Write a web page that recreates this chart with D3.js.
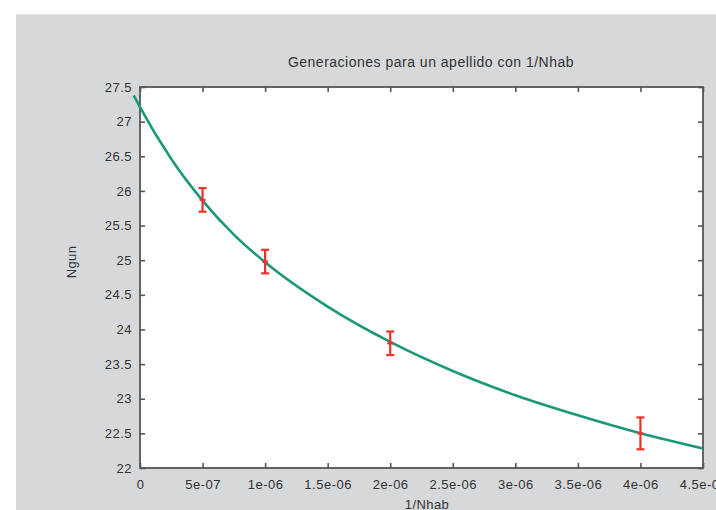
<!DOCTYPE html>
<html>
<head>
<meta charset="utf-8">
<script src="https://d3js.org/d3.v7.min.js"></script>
<style>
  body { margin: 0; background: #fff; }
  svg text { font-family: "Liberation Sans", Arial, sans-serif; fill: #333; }
</style>
</head>
<body>
<div id="chart"></div>
<script>
// measured points with error bars
const xPts = [5e-7, 1e-6, 2e-6, 4e-6];
const yPts = [25.87, 24.98, 23.80, 22.50];
const yErr = [0.17, 0.17, 0.17, 0.23];

// fitted curve
const curveX = [-5e-8, 0, 2.5e-7, 5e-7, 7.5e-7, 1e-6, 1.5e-6, 2e-6, 2.5e-6, 3e-6, 3.5e-6, 4e-6, 4.5e-6];
const curveY = [27.38, 27.21, 26.46, 25.86, 25.37, 24.97, 24.33, 23.82, 23.40, 23.05, 22.76, 22.50, 22.28];

const xTicks = [0, 5e-7, 1e-6, 1.5e-6, 2e-6, 2.5e-6, 3e-6, 3.5e-6, 4e-6, 4.5e-6];
const xTickLabels = ["0", "5e-07", "1e-06", "1.5e-06", "2e-06", "2.5e-06", "3e-06", "3.5e-06", "4e-06", "4.5e-06"];
const yTicks = [22, 22.5, 23, 23.5, 24, 24.5, 25, 25.5, 26, 26.5, 27, 27.5];
const yTickLabels = ["22", "22.5", "23", "23.5", "24", "24.5", "25", "25.5", "26", "26.5", "27", "27.5"];

const W = 716, H = 510;
const plot = {left: 140, right: 703, top: 87, bottom: 468};

const svg = d3.select("#chart").append("svg")
    .attr("width", W)
    .attr("height", H);

// grey panel
svg.append("rect")
    .attr("x", 16).attr("y", 14)
    .attr("width", W - 16).attr("height", H - 14)
    .attr("fill", "#d7d8da");
svg.append("line")
    .attr("x1", 16).attr("x2", W).attr("y1", 14.5).attr("y2", 14.5)
    .attr("stroke", "#e4e4e5");

const x = d3.scaleLinear().domain([0, 4.5e-6]).range([plot.left, plot.right]);
const y = d3.scaleLinear().domain([22, 27.5]).range([plot.bottom, plot.top]);

svg.append("rect")
    .attr("x", plot.left).attr("y", plot.top)
    .attr("width", plot.right - plot.left).attr("height", plot.bottom - plot.top)
    .attr("fill", "#fff");

// axes with inward ticks on all four sides
const fmtX = (d, i) => xTickLabels[i];
const fmtY = (d, i) => yTickLabels[i];

const bottomAx = svg.append("g")
    .attr("transform", `translate(0,${plot.bottom})`)
    .call(d3.axisBottom(x).tickValues(xTicks).tickFormat(fmtX).tickSizeInner(-5).tickSizeOuter(0).tickPadding(12));
const topAx = svg.append("g")
    .attr("transform", `translate(0,${plot.top})`)
    .call(d3.axisTop(x).tickValues(xTicks).tickFormat("").tickSizeInner(-5).tickSizeOuter(0));
const leftAx = svg.append("g")
    .attr("transform", `translate(${plot.left},0)`)
    .call(d3.axisLeft(y).tickValues(yTicks).tickFormat(fmtY).tickSizeInner(-5).tickSizeOuter(0).tickPadding(8));
const rightAx = svg.append("g")
    .attr("transform", `translate(${plot.right},0)`)
    .call(d3.axisRight(y).tickValues(yTicks).tickFormat("").tickSizeInner(-5).tickSizeOuter(0));

[bottomAx, topAx, leftAx, rightAx].forEach(g => {
  g.select(".domain").remove();
  g.selectAll(".tick line").attr("stroke", "#555").attr("stroke-width", 1.6);
  g.selectAll("text").style("font-size", "13px").style("letter-spacing", "0.5px").attr("fill", "#333");
});

// frame
svg.append("rect")
    .attr("x", plot.left).attr("y", plot.top)
    .attr("width", plot.right - plot.left).attr("height", plot.bottom - plot.top)
    .attr("fill", "none")
    .attr("stroke", "#555")
    .attr("stroke-width", 1.8);

// fitted curve
const curveData = curveX.map((v, i) => [v, curveY[i]]);
svg.append("path")
    .datum(curveData)
    .attr("fill", "none")
    .attr("stroke", "#1b9878")
    .attr("stroke-width", 2.6)
    .attr("d", d3.line().x(d => x(d[0])).y(d => y(d[1])).curve(d3.curveMonotoneX));

// error bars
const pts = xPts.map((v, i) => ({x: v, y: yPts[i], e: yErr[i]}));
const eb = svg.append("g").attr("stroke", "#e8332a").attr("stroke-width", 2.2);
eb.selectAll(".bar").data(pts).join("line")
    .attr("x1", d => x(d.x)).attr("x2", d => x(d.x))
    .attr("y1", d => y(d.y + d.e)).attr("y2", d => y(d.y - d.e));
eb.selectAll(".capT").data(pts).join("line")
    .attr("x1", d => x(d.x) - 4).attr("x2", d => x(d.x) + 4)
    .attr("y1", d => y(d.y + d.e)).attr("y2", d => y(d.y + d.e));
eb.selectAll(".capB").data(pts).join("line")
    .attr("x1", d => x(d.x) - 4).attr("x2", d => x(d.x) + 4)
    .attr("y1", d => y(d.y - d.e)).attr("y2", d => y(d.y - d.e));
eb.selectAll(".mid").data(pts).join("line")
    .attr("x1", d => x(d.x) - 3).attr("x2", d => x(d.x) + 3)
    .attr("y1", d => y(d.y)).attr("y2", d => y(d.y));

// title and axis labels
svg.append("text")
    .attr("x", 431).attr("y", 67)
    .attr("text-anchor", "middle")
    .style("font-size", "14px")
    .style("letter-spacing", "0.5px")
    .text("Generaciones para un apellido con 1/Nhab");

svg.append("text")
    .attr("transform", "translate(76,262) rotate(-90)")
    .attr("text-anchor", "middle")
    .style("font-size", "13px")
    .style("letter-spacing", "0.4px")
    .text("Ngun");

svg.append("text")
    .attr("x", 427).attr("y", 509)
    .attr("text-anchor", "middle")
    .style("font-size", "13px")
    .style("letter-spacing", "0.4px")
    .text("1/Nhab");
</script>
</body>
</html>
